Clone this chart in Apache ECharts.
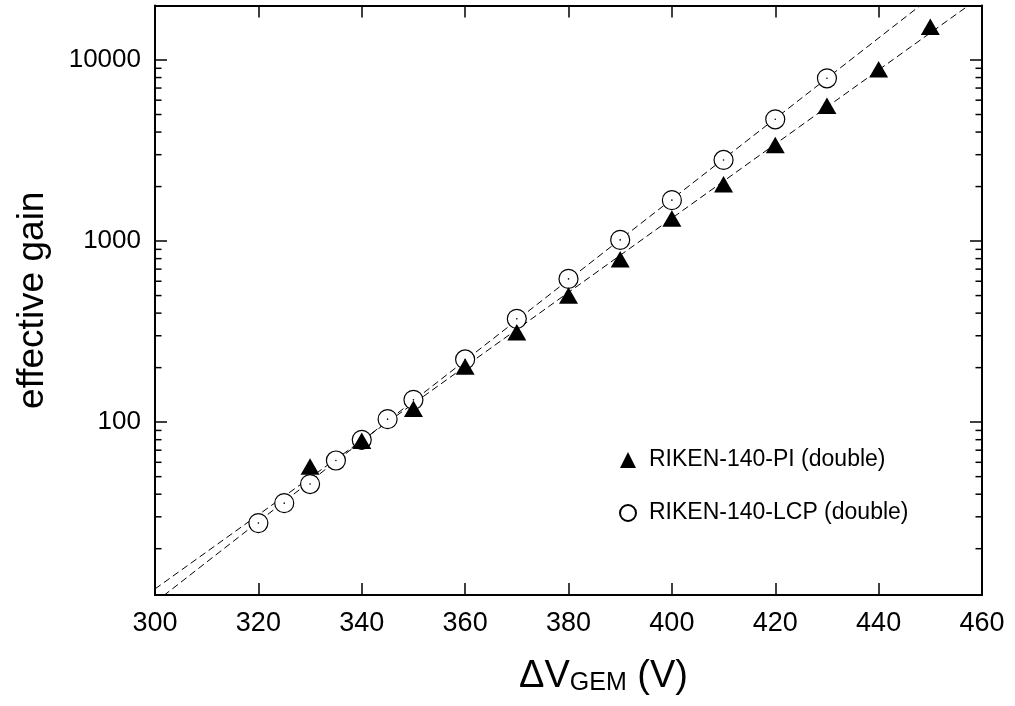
<!DOCTYPE html>
<html>
<head>
<meta charset="utf-8">
<script src="https://cdn.jsdelivr.net/npm/echarts@6/dist/echarts.min.js"></script>
<style>
  html, body { margin: 0; padding: 0; background: #fff; }
  #chart { width: 1015px; height: 706px; }
</style>
</head>
<body>
<div id="chart"></div>
<script>
// Gain curves of double RIKEN-140 GEM stacks
const voltageLCP = [320, 325, 330, 335, 340, 345, 350, 360, 370, 380, 390, 400, 410, 420, 430];
const gainLCP = [27.7, 35.7, 45.5, 61.4, 79.9, 103.9, 132.8, 222, 372, 618, 1015, 1683, 2805, 4706, 7925];

const voltagePI = [330, 340, 350, 360, 370, 380, 390, 400, 410, 420, 430, 440, 450];
const gainPI = [56.9, 78.9, 118.4, 202.7, 314, 500, 794, 1332, 2060, 3395, 5594, 8887, 15270];

const xRange = [300, 460];
const yRange = [11.1, 20000];
const yTickLabels = [100, 1000, 10000];
const yMinorTicks = [20, 30, 40, 50, 60, 70, 80, 90,
                     200, 300, 400, 500, 600, 700, 800, 900,
                     2000, 3000, 4000, 5000, 6000, 7000, 8000, 9000];

const nameLCP = 'RIKEN-140-LCP (double)';
const namePI = 'RIKEN-140-PI (double)';
const FONT = 'Liberation Sans, Arial, sans-serif';

// exponential fit: least squares on log10(gain) versus voltage
function fitExp(xs, ys) {
  const n = xs.length;
  const ly = ys.map(v => Math.log10(v));
  const mx = xs.reduce((a, b) => a + b, 0) / n;
  const my = ly.reduce((a, b) => a + b, 0) / n;
  let sxy = 0, sxx = 0;
  for (let i = 0; i < n; i++) {
    sxy += (xs[i] - mx) * (ly[i] - my);
    sxx += (xs[i] - mx) * (xs[i] - mx);
  }
  const slope = sxy / sxx;
  const icpt = my - slope * mx;
  return xRange.map(x => [x, Math.pow(10, icpt + slope * x)]);
}

const zip = (xs, ys) => xs.map((x, i) => [x, ys[i]]);

const fitLine = (data) => ({
  type: 'line',
  data: data,
  symbol: 'none',
  silent: true,
  clip: true,
  lineStyle: { color: '#000', width: 1, type: [7, 4] },
  z: 1
});

const yAxisBase = {
  type: 'log',
  logBase: 10,
  min: yRange[0],
  max: yRange[1],
  splitLine: { show: false },
  axisLine: { show: true, lineStyle: { color: '#000', width: 2 } },
  axisTick: { show: true, inside: true, length: 12, lineStyle: { color: '#000', width: 1.5 } },
  minorTick: { show: false }
};

const xAxisBase = {
  type: 'value',
  min: xRange[0],
  max: xRange[1],
  interval: 20,
  splitLine: { show: false },
  axisLine: { show: true, onZero: false, lineStyle: { color: '#000', width: 2 } },
  axisTick: { show: true, inside: true, length: 12, lineStyle: { color: '#000', width: 1.5 } }
};

const chart = echarts.init(document.getElementById('chart'), null, { renderer: 'canvas' });

chart.setOption({
  backgroundColor: '#fff',
  animation: false,
  grid: { left: 155, right: 33, top: 5.5, bottom: 111, containLabel: false },
  legend: {
    orient: 'vertical',
    left: 614,
    top: 443,
    itemWidth: 16,
    itemHeight: 16,
    itemGap: 29,
    selectedMode: false,
    data: [namePI, nameLCP],
    textStyle: { color: '#000', fontSize: 23, fontFamily: FONT, lineHeight: 24, padding: [0, 0, 0, 8] }
  },
  xAxis: [
    Object.assign({}, xAxisBase, {
      position: 'bottom',
      axisLabel: { color: '#000', fontSize: 27, fontFamily: FONT, margin: 15 },
      name: '{a|ΔV}{b|GEM}{a| (V)}',
      nameLocation: 'middle',
      nameGap: 63,
      nameTextStyle: {
        padding: [0, 0, 0, 70],
        rich: {
          a: { fontSize: 38, fontFamily: FONT, color: '#000', lineHeight: 38, verticalAlign: 'bottom' },
          b: { fontSize: 25, fontFamily: FONT, color: '#000', lineHeight: 29, verticalAlign: 'bottom' }
        }
      }
    }),
    Object.assign({}, xAxisBase, {
      position: 'top',
      axisLabel: { show: false }
    })
  ],
  yAxis: [
    Object.assign({}, yAxisBase, {
      position: 'left',
      axisLabel: {
        color: '#000', fontSize: 26, fontFamily: FONT, margin: 14,
        formatter: v => {
          const hit = yTickLabels.find(t => Math.abs(t - v) / t < 1e-6);
          return hit !== undefined ? String(hit) : '';
        }
      },
      name: 'effective gain',
      nameLocation: 'middle',
      nameGap: 104,
      nameTextStyle: { color: '#000', fontSize: 37, fontFamily: FONT }
    }),
    Object.assign({}, yAxisBase, {
      position: 'right',
      axisLabel: { show: false }
    })
  ],
  series: [
    fitLine(fitExp(voltageLCP, gainLCP)),
    fitLine(fitExp(voltagePI, gainPI)),
    {
      // minor ticks of the log axis, on both vertical frame edges
      type: 'custom',
      silent: true,
      clip: false,
      z: 5,
      data: yMinorTicks.map(v => [xRange[0], v]),
      encode: { x: 0, y: 1 },
      renderItem: (params, api) => {
        const v = api.value(1);
        const pL = api.coord([xRange[0], v]);
        const pR = api.coord([xRange[1], v]);
        const st = { stroke: '#000', lineWidth: 1.5 };
        return {
          type: 'group',
          children: [
            { type: 'line', shape: { x1: pL[0], y1: pL[1], x2: pL[0] + 6.5, y2: pL[1] }, style: st },
            { type: 'line', shape: { x1: pR[0], y1: pR[1], x2: pR[0] - 6.5, y2: pR[1] }, style: st }
          ]
        };
      }
    },
    {
      name: nameLCP,
      type: 'scatter',
      data: zip(voltageLCP, gainLCP),
      symbol: 'circle',
      symbolSize: 19,
      itemStyle: { color: '#fff', borderColor: '#000', borderWidth: 1.2, opacity: 1 },
      z: 3
    },
    {
      type: 'scatter',
      data: zip(voltageLCP, gainLCP),
      symbol: 'circle',
      symbolSize: 1.6,
      silent: true,
      itemStyle: { color: '#000', opacity: 1 },
      z: 3
    },
    {
      name: namePI,
      type: 'scatter',
      data: zip(voltagePI, gainPI),
      symbol: 'triangle',
      symbolSize: [19, 16.5],
      itemStyle: { color: '#000', opacity: 1 },
      z: 4
    }
  ]
});
</script>
</body>
</html>
